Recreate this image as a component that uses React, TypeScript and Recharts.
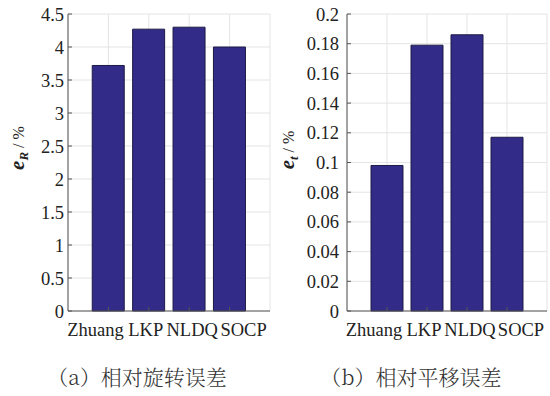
import { BarChart, Bar, XAxis, YAxis, CartesianGrid } from 'recharts';

const categories = ['Zhuang', 'LKP', 'NLDQ', 'SOCP'];
const rotationError = [3.72, 4.27, 4.3, 4.0];
const translationError = [0.098, 0.179, 0.186, 0.117];
const rotationTicks = [0, 0.5, 1, 1.5, 2, 2.5, 3, 3.5, 4, 4.5];
const translationTicks = [0, 0.02, 0.04, 0.06, 0.08, 0.1, 0.12, 0.14, 0.16, 0.18, 0.2];
const categoryTicks = [1, 2, 3, 4];

// label nudges so the names read as one line like the original
const labelShift = [-13, -3, 3, 14];

const serif = '"Liberation Serif", "Times New Roman", serif';
const cjk = '"Noto Serif CJK SC", "Noto Sans CJK SC", sans-serif';
const frame = '#555';
const barFill = '#332b88';

interface PanelProps {
  values: number[];
  ticks: number[];
  axisWidth: number;
  rightMargin: number;
  labelGap: number;
  sub: string;
  labelX: number;
  labelY: number;
  caption: string;
  captionX: number;
}

function Panel({ values, ticks, axisWidth, rightMargin, labelGap, sub, labelX, labelY, caption, captionX }: PanelProps) {
  const data = categories.map((name, i) => ({ x: i + 1, name, value: values[i] }));
  const yMax = ticks[ticks.length - 1];

  const renderXTick = (props: any) => {
    const { x, y, index, payload } = props;
    return (
      <text x={x + labelShift[index]} y={y + 21} textAnchor="middle" fontFamily={serif} fontSize={18.5} fill="#222">
        {categories[payload.value - 1]}
      </text>
    );
  };

  return (
    <div style={{ position: 'relative', width: 275, height: 396 }}>
      <BarChart width={275} height={340} data={data} margin={{ top: 14, right: rightMargin, left: 0, bottom: 0 }} barCategoryGap="10%">
        <CartesianGrid stroke="#e4e4e4" />
        <XAxis
          type="number"
          dataKey="x"
          domain={[0, 5]}
          ticks={categoryTicks}
          height={29}
          tickSize={-4}
          tickMargin={8}
          axisLine={{ stroke: frame }}
          tickLine={{ stroke: frame }}
          tick={renderXTick}
          interval={0}
        />
        <XAxis
          xAxisId="top"
          orientation="top"
          type="number"
          dataKey="x"
          domain={[0, 5]}
          ticks={categoryTicks}
          height={0}
          tickSize={-4}
          tick={false}
          axisLine={{ stroke: frame }}
          tickLine={{ stroke: frame }}
        />
        <YAxis
          type="number"
          domain={[0, yMax]}
          ticks={ticks}
          width={axisWidth}
          tickSize={-4}
          tickMargin={labelGap}
          interval={0}
          axisLine={{ stroke: frame }}
          tickLine={{ stroke: frame }}
          tick={{ fontFamily: serif, fontSize: 18.5, fill: '#222' }}
        />
        <YAxis
          yAxisId="right"
          orientation="right"
          type="number"
          domain={[0, yMax]}
          ticks={ticks}
          width={0}
          tickSize={-4}
          tick={false}
          axisLine={{ stroke: frame }}
          tickLine={{ stroke: frame }}
        />
        <Bar dataKey="value" fill={barFill} stroke="#1c1a45" strokeWidth={1} isAnimationActive={false} />
      </BarChart>
      <svg width={275} height={396} style={{ position: 'absolute', left: 0, top: 0, pointerEvents: 'none' }}>
        <text transform={`translate(${labelX},${labelY}) rotate(-90)`} textAnchor="middle" fontFamily={serif} fill="#222">
          <tspan fontSize={21} fontWeight="bold" fontStyle="italic">e</tspan>
          <tspan fontSize={13} fontWeight="bold" fontStyle="italic" dy={4}>{sub}</tspan>
          <tspan fontSize={16} dy={-4}> / %</tspan>
        </text>
        <text x={captionX} y={385} textAnchor="middle" fontFamily={cjk} fontSize={21} fontWeight={300} fill="#333">
          {caption}
        </text>
      </svg>
    </div>
  );
}

export default function App() {
  return (
    <div style={{ position: 'absolute', left: 0, top: 0, width: 550, height: 396, background: '#fff', display: 'flex' }}>
      <Panel
        values={rotationError}
        ticks={rotationTicks}
        axisWidth={68}
        rightMargin={5}
        labelGap={8}
        sub="R"
        labelX={24}
        labelY={148}
        caption="（a）相对旋转误差"
        captionX={137}
      />
      <Panel
        values={translationError}
        ticks={translationTicks}
        axisWidth={72}
        rightMargin={3}
        labelGap={12}
        sub="t"
        labelX={19}
        labelY={150}
        caption="（b）相对平移误差"
        captionX={136}
      />
    </div>
  );
}
